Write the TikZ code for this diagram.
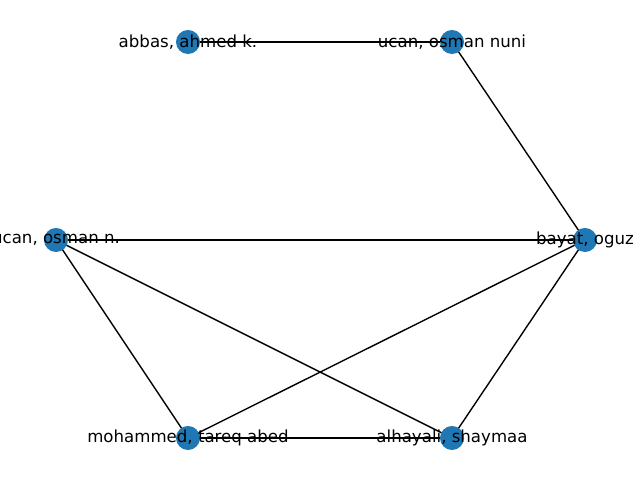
\documentclass[tikz,border=0pt]{standalone}
\usepackage{fontspec}
\setmainfont{DejaVu Sans}
\usetikzlibrary{positioning}
\definecolor{nodeblue}{HTML}{1F77B4}

\begin{document}
\begin{tikzpicture}[x=0.01in,y=-0.01in,
    vert/.style={circle,fill=nodeblue,minimum size=0.24in,inner sep=0pt},
    vtext/.style={font=\fontsize{12}{14}\selectfont,text=black,inner sep=0pt},
    link/.style={draw=black,line width=1pt}]
      \useasboundingbox(0,0)rectangle(640,480);
      \coordinate(abbas)at(188,42);
      \coordinate(nuni)at(452,42);
      \coordinate(ucan)at(56,240);
      \coordinate(bayat)at(585,240);
      \coordinate(tareq)at(188,438);
      \coordinate(shay)at(452,438);
      % edges
      \foreach \a/\b in {abbas/nuni,nuni/bayat,ucan/bayat,ucan/tareq,
                         ucan/shay,bayat/tareq,bayat/shay,tareq/shay}
            \draw[link](\a)--(\b);
      % nodes
      \foreach \v in {abbas,nuni,ucan,bayat,tareq,shay}
            \node[vert]at(\v){};
      % labels
      \node[vtext]at(abbas){abbas, ahmed k.};
      \node[vtext]at(nuni){ucan, osman nuni};
      \node[vtext]at(ucan){ucan, osman n.};
      \node[vtext]at(bayat){bayat, oguz};
      \node[vtext]at(tareq){mohammed, tareq abed};
      \node[vtext]at(shay){alhayali, shaymaa};
    \end{tikzpicture}
\end{document}
